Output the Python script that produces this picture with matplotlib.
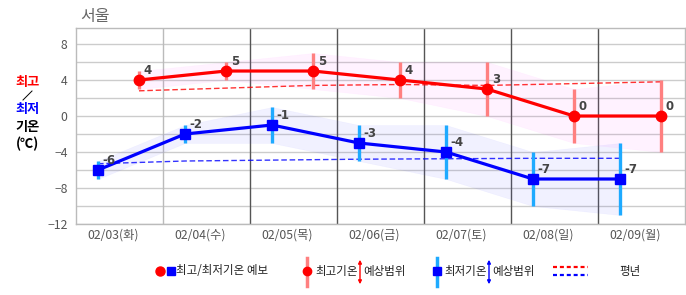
import matplotlib
matplotlib.use('Agg')
import matplotlib.pyplot as plt
import numpy as np

plt.rcParams['font.family'] = ['Noto Sans CJK KR', 'DejaVu Sans']

# forecast data (Seoul)
days = ['02/03(화)', '02/04(수)', '02/05(목)', '02/06(금)', '02/07(토)', '02/08(일)', '02/09(월)']
t_max = [4, 5, 5, 4, 3, 0, 0]
t_min = [-6, -2, -1, -3, -4, -7, -7]
max_hi = [5, 6, 7, 6, 6, 3, 4]
max_lo = [3, 4, 3, 2, 0, -3, -4]
min_hi = [-5, -1, 1, -1, -1, -4, -3]
min_lo = [-7, -3, -3, -5, -7, -10, -11]
norm_max = [2.8, 3.1, 3.4, 3.5, 3.4, 3.6, 3.8]
norm_min = [-5.3, -5.0, -4.9, -4.8, -4.75, -4.7, -4.7]

RED = '#ff0000'
BLUE = '#0000ff'
RED_BAR = '#ff8080'
BLUE_BAR = '#1eaaff'

n = len(days)
xd = np.arange(n)
x_min = xd + 0.253   # morning low
x_max = xd + 0.724   # afternoon high

fig = plt.figure(figsize=(6.86, 2.95), dpi=100)
W, H = 686, 295
ax = fig.add_axes([76 / W, 1 - 224 / H, 609 / W, 196 / H])

# range bands
ax.fill_between(x_max, max_lo, max_hi, facecolor='#ff30ff', alpha=0.06,
                edgecolor='#ff60ff', lw=0.4, zorder=1)
ax.fill_between(x_min, min_lo, min_hi, facecolor='#4040ff', alpha=0.07,
                edgecolor='#8080ff', lw=0.4, zorder=1)

# grid
for yv in range(-12, 11, 2):
    ax.axhline(yv, color='#cccccc', lw=1, zorder=0.5)
for k in range(1, n):
    ax.axvline(k, color='#bbbbbb' if k == 1 else '#555555', lw=1, zorder=0.6)

# normals
ax.plot(x_max, norm_max, color=RED, lw=1, ls=(0, (4, 2)), alpha=0.8, zorder=2)
ax.plot(x_min, norm_min, color=BLUE, lw=1, ls=(0, (4, 2)), alpha=0.8, zorder=2)

# forecast ranges
ax.vlines(x_max, max_lo, max_hi, color=RED_BAR, lw=2.4, zorder=3)
ax.vlines(x_min, min_lo, min_hi, color=BLUE_BAR, lw=2.4, zorder=3)

# forecast lines
ax.plot(x_max, t_max, color=RED, lw=2.3, marker='o', ms=7.5, zorder=4)
ax.plot(x_min, t_min, color=BLUE, lw=2.3, marker='s', ms=7.5, zorder=4)

for xs, vals in ((x_max, t_max), (x_min, t_min)):
    for xv, v in zip(xs, vals):
        ax.annotate(str(v), (xv, v), xytext=(3.5, 4), textcoords='offset points',
                    fontsize=8.5, fontweight='bold', color='#444444', zorder=5,
                    family=['DejaVu Sans'])

ax.set_xlim(0, n)
ax.set_ylim(-12, 9.78)
ax.set_yticks([-12, -8, -4, 0, 4, 8])
ax.set_xticks(xd + 0.43)
ax.set_xticklabels(days)
ax.tick_params(length=0, labelsize=8.8, colors='#555555', pad=3)
ax.tick_params(axis='y', pad=6)
for s in ax.spines.values():
    s.set_color('#bbbbbb')
    s.set_linewidth(1)

fig.text(80 / W, 1 - 16 / H, '서울', fontsize=11.5, color='#666666', va='center', ha='left')

# left axis label
fig.text(28 / W, 1 - 82 / H, '최고', color=RED, fontsize=9.5, fontweight='bold', ha='center', va='center')
fig.add_artist(plt.Line2D([23 / W, 32 / W], [1 - 100 / H, 1 - 91 / H], color='black', lw=0.7))
fig.text(28 / W, 1 - 109 / H, '최저', color=BLUE, fontsize=9.5, fontweight='bold', ha='center', va='center')
fig.text(28 / W, 1 - 127 / H, '기온', color='black', fontsize=9.5, fontweight='bold', ha='center', va='center')
fig.text(28 / W, 1 - 144 / H, '(℃)', color='black', fontsize=9.5, fontweight='bold', ha='center', va='center')

# legend drawn in pixel space
lg = fig.add_axes([0, 0, 1, 1], zorder=-1)
lg.set_xlim(0, W)
lg.set_ylim(H, 0)
lg.axis('off')
ly = 271
lg.plot([160], [ly], 'o', color=RED, ms=6.5)
lg.plot([171], [ly], 's', color=BLUE, ms=6)
lg.text(176, ly, '최고/최저기온 예보', fontsize=8.3, color='#222222', va='center')

lg.plot([307, 307], [258, 286], color=RED_BAR, lw=2.5)
lg.plot([307], [ly], 'o', color=RED, ms=6)
lg.text(315, ly, '최고기온', fontsize=8.3, color='#222222', va='center')
lg.text(363, ly, '예상범위', fontsize=8.3, color='#222222', va='center')
lg.annotate('', xy=(360, 257), xytext=(360, 287),
            arrowprops=dict(arrowstyle='<|-|>', color=RED, lw=1, mutation_scale=5))

lg.plot([437, 437], [258, 286], color=BLUE_BAR, lw=2.5)
lg.plot([437], [ly], 's', color=BLUE, ms=6)
lg.text(444, ly, '최저기온', fontsize=8.3, color='#222222', va='center')
lg.text(492, ly, '예상범위', fontsize=8.3, color='#222222', va='center')
lg.annotate('', xy=(489, 257), xytext=(489, 287),
            arrowprops=dict(arrowstyle='<|-|>', color=BLUE, lw=1, mutation_scale=5))

lg.plot([553, 588], [267, 267], color=RED, lw=1.6, ls=(0, (1.8, 1.3)))
lg.plot([553, 588], [275, 275], color=BLUE, lw=1.6, ls=(0, (1.8, 1.3)))
lg.text(619, ly, '평년', fontsize=8.3, color='#222222', va='center')

fig.savefig('out.png', dpi=100)
